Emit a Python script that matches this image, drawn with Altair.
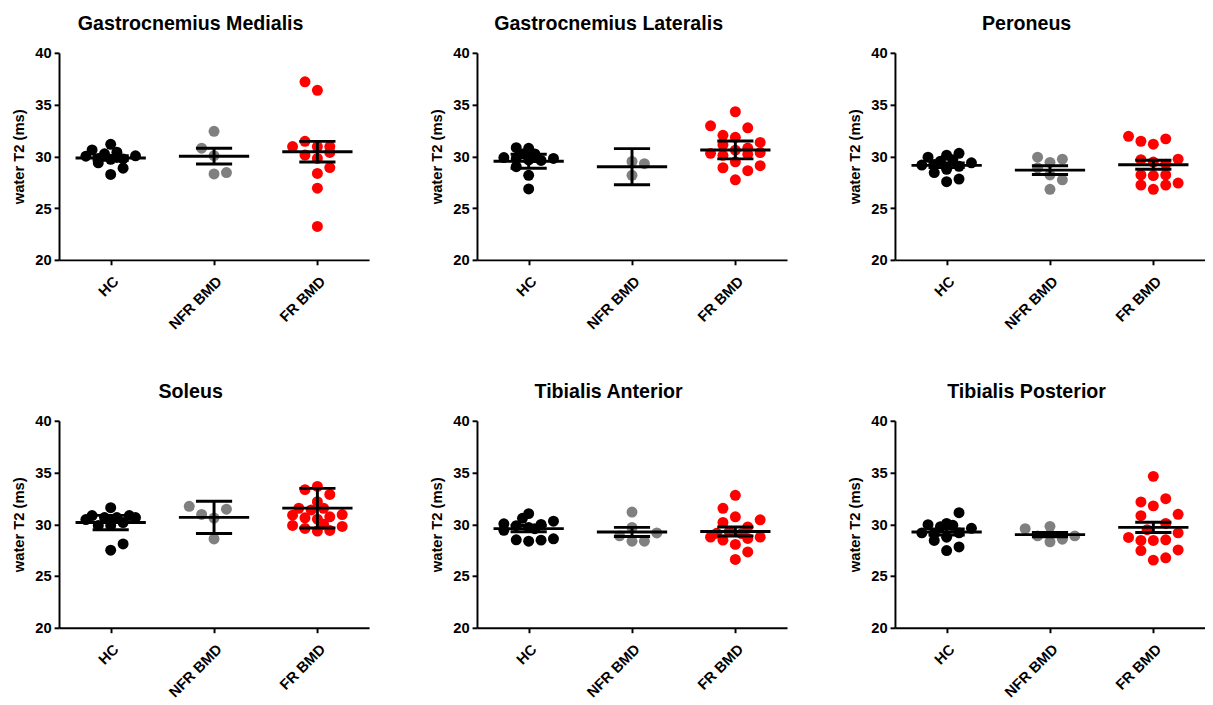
import json
import altair as alt
import pandas as pd

groups = ["HC", "NFR BMD", "FR BMD"]
group_colors = ["#000000", "#808080", "#ff0000"]
panel_titles = ["Gastrocnemius Medialis", "Gastrocnemius Lateralis", "Peroneus",
                "Soleus", "Tibialis Anterior", "Tibialis Posterior"]
y_ticks = [20, 25, 30, 35, 40]

# ---- Gastrocnemius Medialis ----
gm_hc = [30.02, 30.62, 29.37, 29.8, 30.25, 31.17, 29.72, 28.25, 30.4, 28.86, 29.75, 30.05, 29.9]
gm_hc_slot = [-4, -3, -2, -2, -1, 0, 0, 0, 1, 2, 2, 4, 1]
gm_nfr = [32.42, 30.79, 30.06, 28.3, 28.44]
gm_nfr_slot = [0, -2, 0, 0, 2]
gm_fr = [37.2, 36.38, 31.45, 30.95, 30.95, 30.95, 30.13, 30.38, 29.8, 28.92, 28.35, 26.93, 23.23]
gm_fr_slot = [-2, 0, -2, -4, 0, 2, -2, 2, 0, 2, 0, 0, 0]
gm_mean = [29.85, 30.02, 30.45]
gm_sem = [0.22, 0.76, 1.0]

# ---- Gastrocnemius Lateralis ----
gl_hc = [29.89, 30.84, 30.78, 30.24, 29.89, 29.61, 29.8, 29.0, 28.17, 26.85, 29.8, 29.65, 30.24]
gl_hc_slot = [-4, -2, 0, -1, 1, 2, 4, -2, 0, 0, -2, 0, 1]
gl_nfr = [29.51, 29.29, 28.17]
gl_nfr_slot = [0, 2, 0]
gl_fr = [34.31, 32.95, 32.76, 32.03, 31.84, 31.12, 31.34, 30.8, 30.29, 30.1, 30.2, 30.36,
         29.47, 28.9, 28.62, 29.1, 27.74, 30.6]
gl_fr_slot = [0, -4, 2, -2, 0, -2, 4, 2, -4, -2, 2, 4, 0, -2, 2, 4, 0, 0]
gl_mean = [29.53, 29.0, 30.62]
gl_sem = [0.68, 1.75, 0.86]

# ---- Peroneus ----
pe_hc = [29.16, 29.92, 28.43, 29.54, 30.11, 28.75, 27.55, 29.67, 30.3, 29.04, 27.81, 29.38, 29.22]
pe_hc_slot = [-4, -3, -2, -1, 0, 0, 0, 1, 2, 2, 2, 4, -2]
pe_nfr = [29.92, 28.88, 29.42, 28.21, 26.82, 29.73, 27.74]
pe_nfr_slot = [-2, -2, 0, 0, 0, 2, 2]
pe_fr = [31.94, 31.46, 31.18, 31.69, 29.68, 29.73, 29.25, 28.21, 28.15, 28.21, 27.23, 26.82,
         27.23, 27.42, 29.45]
pe_fr_slot = [-4, -2, 0, 2, -2, 4, 2, -2, 0, 2, -2, 0, 2, 4, 0]
pe_mean = [29.13, 28.67, 29.19]
pe_sem = [0.22, 0.43, 0.44]

# ---- Soleus ----
so_hc = [30.46, 30.84, 29.89, 30.65, 31.6, 29.89, 27.5, 30.65, 30.17, 28.1, 30.84, 30.65, 30.3]
so_hc_slot = [-4, -3, -2, -1, 0, 0, 0, 1, 2, 2, 3, 4, 0]
so_nfr = [31.74, 30.95, 30.6, 31.46, 28.58]
so_nfr_slot = [-4, -2, 0, 2, 0]
so_fr = [33.35, 33.66, 32.88, 32.18, 31.55, 31.39, 31.55, 30.88, 30.63, 30.5, 30.72, 30.94,
         29.89, 29.6, 29.35, 29.41, 29.79, 30.0]
so_fr_slot = [-2, 0, 2, 0, -3, -1, 1, -4, -2, 0, 2, 4, -4, -2, 0, 2, 4, 1]
so_mean = [30.17, 30.67, 31.56]
so_sem = [0.69, 1.55, 1.91]

# ---- Tibialis Anterior ----
ta_hc = [30.05, 29.42, 29.86, 30.58, 31.03, 29.7, 29.98, 30.3, 28.5, 28.37, 28.47, 28.6, 29.58]
ta_hc_slot = [-4, -4, -2, -1, 0, 0, 2, 4, -2, 0, 2, 4, 1]
ta_nfr = [31.18, 29.7, 28.88, 28.37, 28.37, 29.16]
ta_nfr_slot = [0, 0, -2, 0, 2, 4]
ta_fr = [32.8, 31.54, 30.18, 30.72, 30.43, 29.74, 28.76, 28.47, 28.06, 28.63, 28.76, 27.33,
         26.6, 29.13, 29.3, 29.1]
ta_fr_slot = [0, -2, -2, 0, 4, 2, -4, -2, 0, 2, 4, 2, 0, -3, -1, 1]
ta_mean = [29.58, 29.26, 29.3]
ta_sem = [0.3, 0.44, 0.43]

# ---- Tibialis Posterior ----
tp_hc = [29.17, 29.96, 28.44, 29.77, 30.08, 28.75, 27.46, 29.9, 31.12, 29.17, 27.81, 29.61, 29.07]
tp_hc_slot = [-4, -3, -2, -1, 0, 0, 0, 1, 2, 2, 2, 4, -2]
tp_nfr = [29.58, 28.88, 29.8, 28.31, 28.56, 28.88, 29.0]
tp_nfr_slot = [-4, -2, 0, 0, 2, 4, 0]
tp_fr = [34.63, 32.16, 32.47, 31.78, 30.83, 30.96, 30.08, 29.48, 29.17, 28.73, 28.44, 28.44,
         28.5, 27.46, 27.52, 26.76, 26.54]
tp_fr_slot = [0, -2, 2, 0, -2, 4, 2, -1, 4, -4, -2, 0, 2, -2, 4, 2, 0]
tp_mean = [29.26, 29.0, 29.7]
tp_sem = [0.29, 0.2, 0.5]

SLOT = 0.06      # horizontal jitter step (category units)
MEAN_HALF = 0.34
CAP_HALF = 0.175

label_expr = json.dumps(groups) + "[floor(datum.value)]"
x_scale = alt.Scale(domain=[0, 3], nice=False, zero=False)
y_scale = alt.Scale(domain=[20, 40], nice=False, zero=False)
x_axis = alt.Axis(values=[0.5, 1.5, 2.5], labelExpr=label_expr, title=None,
                  labelAngle=-45, labelPadding=9, grid=False)
y_axis = alt.Axis(values=y_ticks, title="water T2 (ms)", grid=False,
                  labelPadding=3, titlePadding=8)


def panel(title, vals, slots, means, sems):
    rows = []
    for gi, (vl, sl) in enumerate(zip(vals, slots)):
        for v, s in zip(vl, sl):
            rows.append({"group": groups[gi], "gi": gi, "slot": s, "value": v})
    df = pd.DataFrame(rows)
    summ = pd.DataFrame({"group": groups, "gi": [0, 1, 2], "mean": means, "sem": sems})

    pts = alt.Chart(df).transform_calculate(
        xpos=f"datum.gi + 0.5 + datum.slot * {SLOT}"
    ).mark_circle(size=125, opacity=1).encode(
        x=alt.X("xpos:Q", scale=x_scale, axis=x_axis),
        y=alt.Y("value:Q", scale=y_scale, axis=y_axis),
        color=alt.Color("group:N", scale=alt.Scale(domain=groups, range=group_colors), legend=None),
    )
    base = alt.Chart(summ).transform_calculate(
        c="datum.gi + 0.5",
        lo="datum.mean - datum.sem",
        hi="datum.mean + datum.sem",
        ml=f"datum.gi + 0.5 - {MEAN_HALF}",
        mr=f"datum.gi + 0.5 + {MEAN_HALF}",
        cl=f"datum.gi + 0.5 - {CAP_HALF}",
        cr=f"datum.gi + 0.5 + {CAP_HALF}",
    )
    mean_line = base.mark_rule(color="black", strokeWidth=3).encode(
        x=alt.X("ml:Q", scale=x_scale, axis=x_axis), x2="mr:Q",
        y=alt.Y("mean:Q", scale=y_scale, axis=y_axis))
    cap_hi = base.mark_rule(color="black", strokeWidth=3).encode(
        x=alt.X("cl:Q", scale=x_scale, axis=x_axis), x2="cr:Q",
        y=alt.Y("hi:Q", scale=y_scale, axis=y_axis))
    cap_lo = base.mark_rule(color="black", strokeWidth=3).encode(
        x=alt.X("cl:Q", scale=x_scale, axis=x_axis), x2="cr:Q",
        y=alt.Y("lo:Q", scale=y_scale, axis=y_axis))
    vert = base.mark_rule(color="black", strokeWidth=3).encode(
        x=alt.X("c:Q", scale=x_scale, axis=x_axis),
        y=alt.Y("lo:Q", scale=y_scale, axis=y_axis), y2="hi:Q")
    return alt.layer(pts, mean_line, cap_hi, cap_lo, vert).properties(
        width=316, height=211, title=alt.TitleParams(title, anchor="middle", frame="bounds"))


p = [
    panel(panel_titles[0], [gm_hc, gm_nfr, gm_fr], [gm_hc_slot, gm_nfr_slot, gm_fr_slot], gm_mean, gm_sem),
    panel(panel_titles[1], [gl_hc, gl_nfr, gl_fr], [gl_hc_slot, gl_nfr_slot, gl_fr_slot], gl_mean, gl_sem),
    panel(panel_titles[2], [pe_hc, pe_nfr, pe_fr], [pe_hc_slot, pe_nfr_slot, pe_fr_slot], pe_mean, pe_sem),
    panel(panel_titles[3], [so_hc, so_nfr, so_fr], [so_hc_slot, so_nfr_slot, so_fr_slot], so_mean, so_sem),
    panel(panel_titles[4], [ta_hc, ta_nfr, ta_fr], [ta_hc_slot, ta_nfr_slot, ta_fr_slot], ta_mean, ta_sem),
    panel(panel_titles[5], [tp_hc, tp_nfr, tp_fr], [tp_hc_slot, tp_nfr_slot, tp_fr_slot], tp_mean, tp_sem),
]

FONT = "Liberation Sans"
chart = alt.vconcat(
    alt.hconcat(p[0], p[1], p[2], spacing=62),
    alt.hconcat(p[3], p[4], p[5], spacing=62),
    spacing=51,
).configure_axis(
    domainColor="black", domainWidth=2, tickColor="black", tickWidth=2, tickSize=5,
    labelFont=FONT, labelFontSize=15, labelFontWeight="bold", labelColor="black",
    titleFont=FONT, titleFontSize=15, titleFontWeight="bold", titleColor="black",
    grid=False,
).configure_view(stroke=None).configure_title(
    font=FONT, fontSize=20, fontWeight="bold", color="black", offset=12,
).properties(padding={"left": 4, "top": 0, "right": 0, "bottom": 0})

chart.save("out.html", embed_options={"renderer": "svg", "actions": False})
